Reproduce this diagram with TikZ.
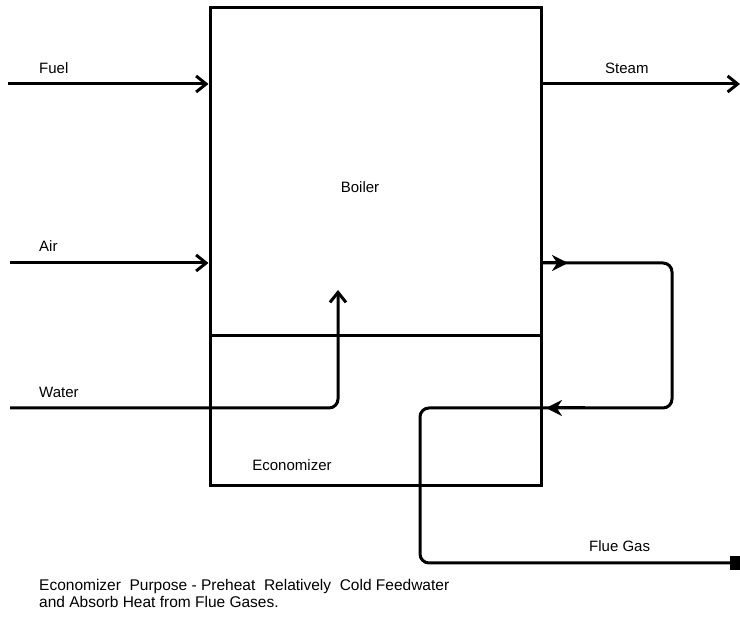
\documentclass[tikz,border=0pt]{standalone}
\usepackage{fontspec}
\setmainfont{Liberation Sans}
\usetikzlibrary{arrows.meta,positioning}

\begin{document}
\begin{tikzpicture}[
      x=1pt,y=-1pt,
      font=\fontsize{15}{18}\selectfont,
      unit/.style={draw,line width=3pt,rectangle,minimum width=331pt,inner sep=0pt},
      flow/.style={line width=3pt,rounded corners=9pt},
      arrow/.style={flow,-{Straight Barb[length=10pt,width=16pt,line width=3pt]}},
      midtip/.style={line width=3pt,-{Stealth[length=16pt,width=16pt]}},
      label/.style={inner sep=1pt}
    ]
      \useasboundingbox (0,0) rectangle (740,617);
      \node[unit,minimum height=328pt] (boiler) at (375.5,172) {};
      \node[unit,minimum height=150pt] (econ) at (375.5,411) {};
      \node[label] (boilertxt) at (360,187) {Boiler};
      \node[label] (econtxt) at (292,465) {Economizer};
      % inputs on the left
      \coordinate (fuelin) at (8,84);
      \coordinate (airin) at (10,263);
      \coordinate (waterin) at (10,408);
      \coordinate (riser) at (338,290);
      \node[label,anchor=west] (fuel) at (38,68) {Fuel};
      \node[label,anchor=west] (air) at (38,246) {Air};
      \node[label,anchor=west] (water) at (38,392) {Water};
      \draw[arrow] (fuelin) -- (fuelin -| boiler.west);
      \draw[arrow] (airin) -- (airin -| boiler.west);
      \draw[arrow] (waterin) -| (riser);
      % steam out
      \coordinate (steamout) at (740,84);
      \node[label,anchor=west] (steam) at (604,68) {Steam};
      \draw[arrow] (steamout -| boiler.east) -- (steamout);
      % flue gas through the economizer
      \coordinate (gasout) at (541,263);
      \coordinate (gasback) at (672,408);
      \coordinate (stack) at (420,563);
      \coordinate (flueend) at (740,563);
      \node[label,anchor=west] (flue) at (588,546) {Flue Gas};
      \draw[flow,-{Square[length=10pt,width=14pt]}] (gasout) -| (gasback) -| (stack) -- (flueend);
      \draw[midtip] (gasout) -- ++(27,0);
      \draw[midtip] (585,408) -- (546,408);
      % caption
      \node[label,anchor=north west,align=left,font=\fontsize{15.5}{17}\selectfont] (caption) at (38,578)
        {Economizer\ \ Purpose - Preheat\ \ Relatively\ \ Cold Feedwater\\and Absorb Heat from Flue Gases.};
    \end{tikzpicture}
\end{document}
